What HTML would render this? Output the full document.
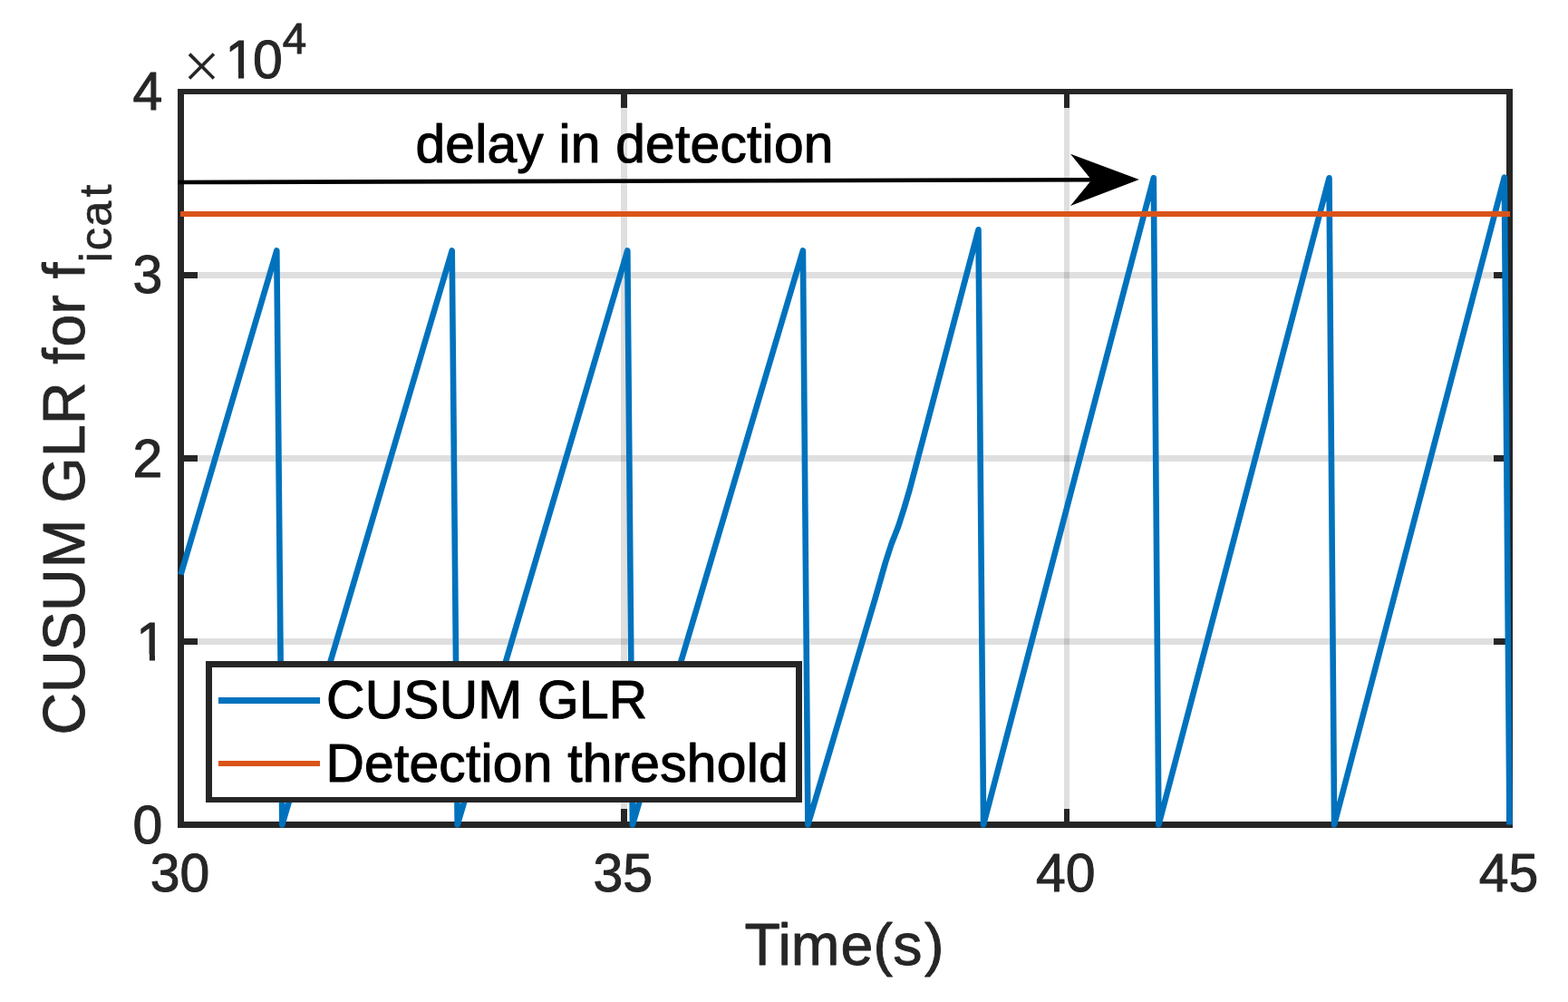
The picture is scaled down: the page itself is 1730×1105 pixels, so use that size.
<!DOCTYPE html>
<html lang="en"><head><meta charset="utf-8"><title>CUSUM GLR for f_icat</title>
<style>
html,body{margin:0;padding:0;background:#fff;}
body{width:1730px;height:1105px;overflow:hidden;}
svg{display:block;}
text{font-family:"Liberation Sans",Arial,Helvetica,sans-serif;}
.tk{font-size:58.9px;fill:#262626;stroke:#262626;stroke-width:1px;stroke-linejoin:round;}
.lb{font-size:64.4px;fill:#262626;stroke:#262626;stroke-width:0.9px;stroke-linejoin:round;}
.bk{font-size:58.7px;fill:#000;stroke:#000;stroke-width:1.1px;stroke-linejoin:round;letter-spacing:0.25px;}
.cr{shape-rendering:crispEdges;}
</style></head><body>
<svg width="1730" height="1105" viewBox="0 0 1730 1105">
<rect x="0" y="0" width="1730" height="1105" fill="#fff"/>
<defs><clipPath id="ax"><rect x="196" y="98" width="1473" height="815"/></clipPath></defs>
<g class="cr" fill="#262626" fill-opacity="0.15">
<rect x="685" y="104" width="7" height="802"/>
<rect x="1174" y="104" width="6" height="802"/>
<rect x="203" y="300" width="1459" height="7"/>
<rect x="203" y="502" width="1459" height="7"/>
<rect x="203" y="704" width="1459" height="7"/>
</g>
<g class="cr" fill="#262626">
<rect x="196" y="98" width="7" height="815"/>
<rect x="1662" y="98" width="7" height="815"/>
<rect x="196" y="98" width="1473" height="6"/>
<rect x="196" y="906" width="1473" height="7"/>
<rect x="685" y="892" width="7" height="14"/>
<rect x="685" y="104" width="7" height="15"/>
<rect x="1174" y="892" width="6" height="14"/>
<rect x="1174" y="104" width="6" height="15"/>
<rect x="203" y="300" width="15" height="7"/>
<rect x="1648" y="300" width="14" height="7"/>
<rect x="203" y="502" width="15" height="7"/>
<rect x="1648" y="502" width="14" height="7"/>
<rect x="203" y="704" width="15" height="7"/>
<rect x="1648" y="704" width="14" height="7"/>
</g>
<g clip-path="url(#ax)" fill="none" stroke-linejoin="round" stroke-linecap="butt">
<path d="M199.5 633.6 L305.3 276.4 L311.3 909.5 L498.7 276.4 L504.7 909.5 L692.3 276.4 L697.9 909.5 L885.9 276.4 L891.4 909.5 L965.6 660.0 L971.3 640.0 L977.0 620.0 L983.5 600.0 L991.3 580.0 L997.7 560.0 L1003.6 540.0 L1014.2 500.0 L1079.5 253.3 L1085.1 909.5 L1272.8 196.3 L1278.4 909.5 L1466.5 196.3 L1472.1 909.5 L1659.8 195.6 L1665.5 909.5" stroke="#0072bd" stroke-width="6.60"/>
<rect class="cr" x="199" y="233" width="1467" height="6" fill="#d95319"/>
</g>
<g class="cr">
<rect x="227" y="729" width="658" height="156" fill="#fff"/>
<g fill="#262626">
<rect x="227" y="729" width="7" height="156"/>
<rect x="878" y="729" width="7" height="156"/>
<rect x="227" y="729" width="658" height="7"/>
<rect x="227" y="879" width="658" height="6"/>
</g>
<rect x="241" y="769" width="112" height="7" fill="#0072bd"/>
<rect x="241" y="839" width="112" height="6" fill="#d95319"/>
</g>
<text class="bk" id="lg1" x="360" y="791.8">CUSUM GLR</text>
<text class="bk" id="lg2" x="359.4" y="861.7">Detection threshold</text>
<line x1="196" y1="201" x2="1210" y2="198.3" stroke="#000" stroke-width="4.6"/>
<polygon points="1256.8,197.9 1181,169.8 1204.3,198.4 1181,227" fill="#000"/>
<text class="bk" id="ann" x="458.4" y="178.9">delay in detection</text>
<text class="tk" text-anchor="end" x="179.2" y="929.7">0</text>
<text class="tk" text-anchor="end" x="183.0" y="727.6">1</text>
<text class="tk" text-anchor="end" x="179.2" y="525.5">2</text>
<text class="tk" text-anchor="end" x="179.2" y="323.3">3</text>
<text class="tk" text-anchor="end" x="179.2" y="121.2">4</text>
<text class="tk" text-anchor="middle" x="198.5" y="983">30</text>
<text class="tk" text-anchor="middle" x="687.2" y="983">35</text>
<text class="tk" text-anchor="middle" x="1175.8" y="983">40</text>
<text class="tk" text-anchor="middle" x="1664.5" y="983">45</text>
<text x="202.0" y="96.9" style="font-family:'Liberation Serif',serif;font-size:72.4px;fill:#262626">×</text>
<text class="tk" x="246.3" y="86" dx="2.1 -2.1">10<tspan dy="-27.2" style="font-size:47.5px">4</tspan></text>
<g fill="#fff">
<rect x="150" y="721.6" width="14.9" height="8.4"/>
<rect x="171" y="721.6" width="13" height="8.4"/>
<rect x="249" y="79.9" width="14" height="8.6"/>
<rect x="269.2" y="79.9" width="11.3" height="8.6"/>
</g>
<text class="lb" id="xl" x="821.5" y="1063.9" dx="0 0 0 1 0.3 0.3 2.4">Time(s)</text>
<text class="lb" id="yl" transform="translate(92.9 810.5) rotate(-90)" dx="0 0 0 0.5 1.2 0 0.3 0.3 0.2 0 2 1.2 0.3 0 -0.5">CUSUM GLR for f<tspan dy="30.4" dx="0.5 1.7 1.4 4.3" style="font-size:50.4px;stroke-width:0.6px">icat</tspan></text>
</svg>
</body></html>
